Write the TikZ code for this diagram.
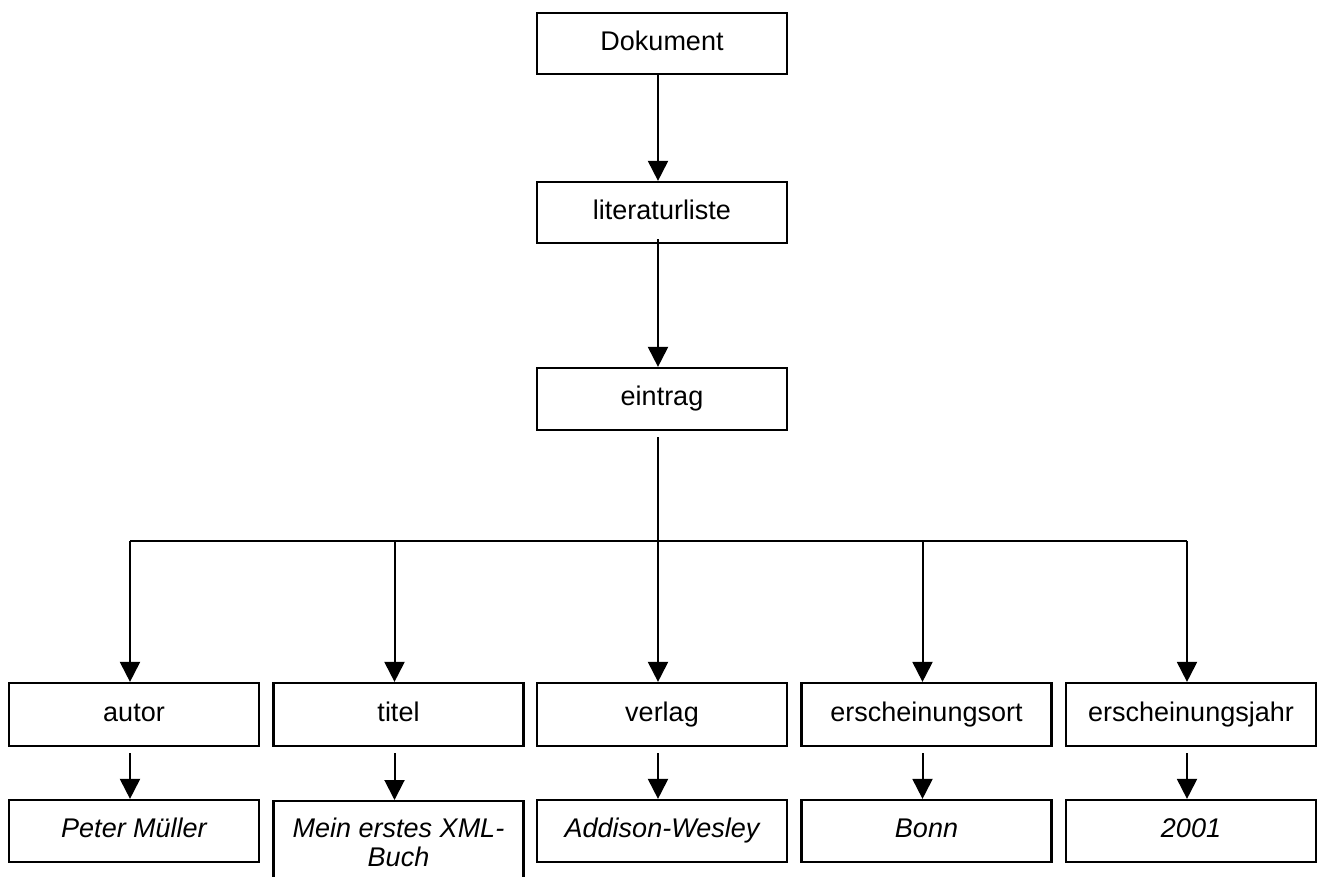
\documentclass[tikz,border=0pt]{standalone}
\usepackage{fontspec}
\setmainfont{Liberation Sans}
\usetikzlibrary{arrows.meta}
\begin{document}
\begin{tikzpicture}[x=1pt,y=-1pt,
  box/.style={draw=black, line width=2.2pt, minimum width=250pt, inner sep=0pt,
    text height=19.5pt, text depth=6pt,
    font=\fontsize{27}{29}\selectfont},
  valbox/.style={box, font=\fontsize{27}{29}\selectfont\itshape},
  conn/.style={draw=black, line width=2pt},
  arr/.style={conn, -{Triangle[width=20pt,length=20pt]}}]
\useasboundingbox (0,0) rectangle (1321,877);
\clip (0,0) rectangle (1321,877);
% upper chain
\node[box, minimum height=61pt] (dok) at (662,43.5) {Dokument};
\node[box, minimum height=61pt] (lit) at (662,212.5) {literaturliste};
\node[box, minimum height=62pt] (ein) at (662,399) {eintrag};
% child row
\node[box, minimum height=63pt] (autor) at (134,714.5) {autor};
\node[box, minimum height=63pt] (titel) at (398.5,714.5) {titel};
\node[box, minimum height=63pt] (verlag) at (662,714.5) {verlag};
\node[box, minimum height=63pt] (ort) at (926.5,714.5) {erscheinungsort};
\node[box, minimum height=63pt] (jahr) at (1191,714.5) {erscheinungsjahr};
% value row
\node[valbox, minimum height=62pt] (v1) at (134,831) {Peter Müller};
\node[draw=black, line width=2.2pt, minimum width=250pt, minimum height=110pt, inner sep=0pt, anchor=north] (v2) at (398.5,800) {};
\node[font=\fontsize{27}{29}\selectfont\itshape, align=center, anchor=north, inner sep=0pt] (v2t) at ([yshift=-18pt]v2.north) {Mein erstes XML-\\Buch};
\node[valbox, minimum height=62pt] (v3) at (662,831) {Addison-Wesley};
\node[valbox, minimum height=62pt] (v4) at (926.5,831) {Bonn};
\node[valbox, minimum height=62pt] (v5) at (1191,831) {2001};
% anchor points (arrows sit 4px left of the box centres)
\foreach \n in {dok,lit,ein,autor,titel,verlag,ort,jahr,v1,v2,v3,v4,v5}{
  \coordinate (\n N) at ([xshift=-4pt]\n.north);
  \coordinate (\n S) at ([xshift=-4pt]\n.south);
}
\coordinate (bus) at (0,541);
% connectors
\draw[arr] (dokS) -- (litN);
\draw[arr, shorten <=-5pt] (litS) -- (einN);
\draw[arr, shorten <=6pt] (einS) -- (verlagN);
\draw[conn] (autorN |- bus) -- (jahrN |- bus);
\draw[arr] (autorN |- bus) -- (autorN);
\draw[arr] (titelN |- bus) -- (titelN);
\draw[arr] (ortN |- bus) -- (ortN);
\draw[arr] (jahrN |- bus) -- (jahrN);
\draw[arr, shorten <=6pt] (autorS) -- (v1N);
\draw[arr, shorten <=6pt] (titelS) -- (v2N);
\draw[arr, shorten <=6pt] (verlagS) -- (v3N);
\draw[arr, shorten <=6pt] (ortS) -- (v4N);
\draw[arr, shorten <=6pt] (jahrS) -- (v5N);
\end{tikzpicture}
\end{document}
